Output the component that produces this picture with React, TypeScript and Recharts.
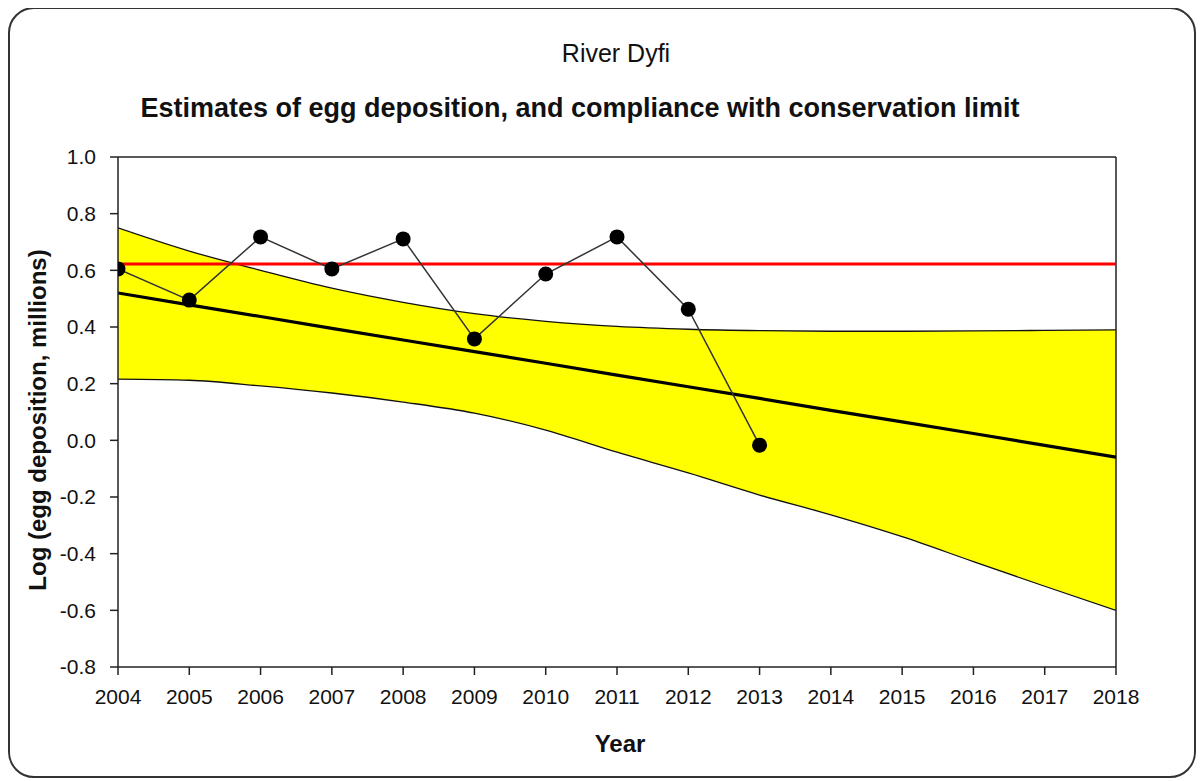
import React from 'react';
import { ComposedChart, Area, Line, XAxis, YAxis, ReferenceLine } from 'recharts';

const years = [2004, 2005, 2006, 2007, 2008, 2009, 2010, 2011, 2012, 2013, 2014, 2015, 2016, 2017, 2018];
const observed = [0.605, 0.495, 0.718, 0.605, 0.711, 0.358, 0.587, 0.718, 0.463, -0.017];
const trend = [0.52, 0.478, 0.437, 0.395, 0.354, 0.313, 0.272, 0.23, 0.189, 0.148, 0.106, 0.065, 0.024, -0.018, -0.059];
const upper = [0.75, 0.668, 0.6, 0.537, 0.487, 0.447, 0.42, 0.402, 0.392, 0.387, 0.385, 0.385, 0.386, 0.388, 0.39];
const lower = [0.216, 0.212, 0.192, 0.167, 0.135, 0.096, 0.036, -0.042, -0.115, -0.193, -0.263, -0.34, -0.428, -0.515, -0.6];
const conservationLimit = 0.622;
const yTicks = [-0.8, -0.6, -0.4, -0.2, 0.0, 0.2, 0.4, 0.6, 0.8, 1.0];

const data = years.map((year, i) => ({
  year,
  band: [lower[i], upper[i]],
  lo: lower[i],
  hi: upper[i],
  trend: trend[i],
  obs: i < observed.length ? observed[i] : null,
}));

const FONT = '"Liberation Sans", Arial, sans-serif';
const tickStyle = { fill: '#111', fontSize: 21, fontFamily: FONT };

const App: React.FC = () => {
  return (
    <div style={{ position: 'relative', width: 1188, height: 771, fontFamily: FONT, color: '#111' }}>
      {/* frame */}
      <div
        style={{
          position: 'absolute', left: 0, top: -1, width: 1188, height: 771,
          border: '2px solid #333', borderRadius: 26, boxSizing: 'border-box',
        }}
      />
      <div style={{ position: 'absolute', left: 0, width: 1216, top: 33, textAlign: 'center', fontSize: 25, lineHeight: '25px' }}>
        River Dyfi
      </div>
      <div style={{ position: 'absolute', left: 0, width: 1144, top: 87, textAlign: 'center', fontSize: 27, lineHeight: '27px', fontWeight: 'bold' }}>
        Estimates of egg deposition, and compliance with conservation limit
      </div>
      <div
        style={{
          position: 'absolute', left: 30 - 250, top: 412 - 12, width: 500, textAlign: 'center',
          fontSize: 24, lineHeight: '24px', fontWeight: 'bold', transform: 'rotate(-90deg)',
        }}
      >
        Log (egg deposition, millions)
      </div>
      <div style={{ position: 'absolute', left: 0, width: 1224, top: 724, textAlign: 'center', fontSize: 24, lineHeight: '24px', fontWeight: 'bold' }}>
        Year
      </div>

      <div style={{ position: 'absolute', left: 0, top: 0 }}>
        <ComposedChart width={1188} height={770} data={data} margin={{ top: 149, right: 80, bottom: 71, left: 50 }}>
          <XAxis
            dataKey="year"
            type="number"
            domain={[2004, 2018]}
            ticks={years}
            allowDataOverflow
            tickSize={8}
            tickMargin={14}
            height={40}
            stroke="#222"
            strokeWidth={1.5}
            tick={tickStyle}
          />
          <YAxis
            type="number"
            domain={[-0.8, 1.0]}
            ticks={yTicks}
            allowDataOverflow
            tickSize={8}
            tickMargin={14}
            width={60}
            stroke="#222"
            strokeWidth={1.5}
            tick={tickStyle}
            tickFormatter={(v: number) => v.toFixed(1)}
          />
          <Area
            dataKey="band"
            type="monotone"
            fill="#ffff00"
            fillOpacity={1}
            stroke="none"
            isAnimationActive={false}
          />
          <Line dataKey="hi" type="monotone" stroke="#111" strokeWidth={1.3} dot={false} isAnimationActive={false} />
          <Line dataKey="lo" type="monotone" stroke="#111" strokeWidth={1.3} dot={false} isAnimationActive={false} />
          <ReferenceLine y={1.0} stroke="#222" strokeWidth={1.5} />
          <ReferenceLine x={2018} stroke="#222" strokeWidth={1.5} />
          <Line dataKey="trend" type="linear" stroke="#000" strokeWidth={3.2} dot={false} isAnimationActive={false} />
          <ReferenceLine y={conservationLimit} stroke="#ff0000" strokeWidth={3} />
          <Line
            dataKey="obs"
            type="linear"
            stroke="#333"
            strokeWidth={1.5}
            dot={{ r: 7.5, fill: '#000', stroke: '#000', strokeWidth: 0 }}
            isAnimationActive={false}
          />
        </ComposedChart>
      </div>
    </div>
  );
};

export default App;
